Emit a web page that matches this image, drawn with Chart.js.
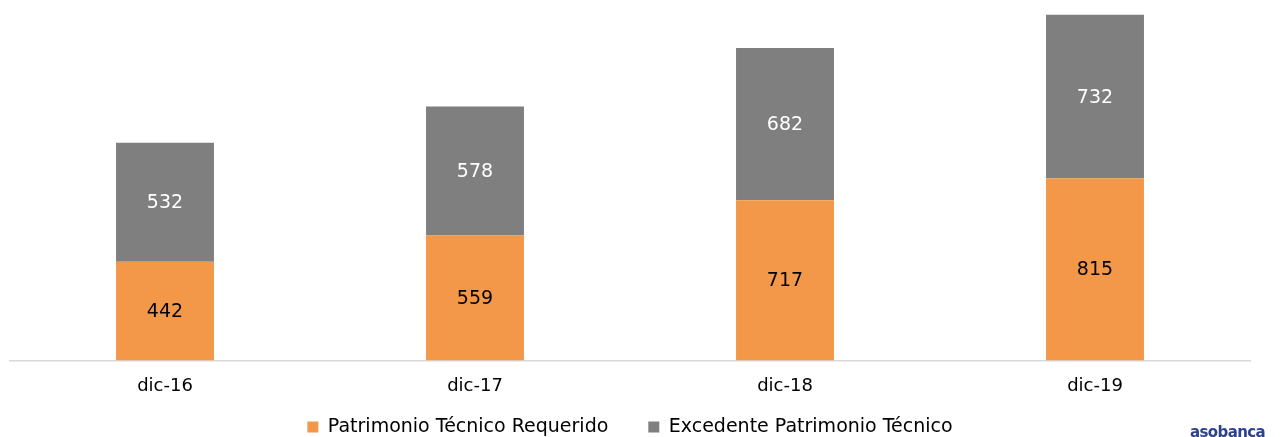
<!DOCTYPE html>
<html>
<head>
<meta charset="utf-8">
<script src="https://cdn.jsdelivr.net/npm/chart.js@4"></script>
<style>
  html, body { margin: 0; padding: 0; background: #fff; }
  #wrap { position: relative; width: 1281px; height: 437px; }
  #logo { position: absolute; left: 1190px; top: 423px; line-height: 15px; font: bold 15px "DejaVu Sans", sans-serif; color: #2f4290; letter-spacing: -0.6px; }
</style>
</head>
<body>
<div id="wrap">
  <canvas id="patrimonio" width="1281" height="437"></canvas>
  <div id="logo">asobanca</div>
</div>
<script>
let categories = ['dic-16', 'dic-17', 'dic-18', 'dic-19'];
let requerido = [442, 559, 717, 815];
let excedente = [532, 578, 682, 732];
let seriesNames = ['Patrimonio Técnico Requerido', 'Excedente Patrimonio Técnico'];

// numbers inside each bar segment
const barLabels = {
	id: 'barLabels',
	afterDatasetsDraw(chart) {
		let c = chart.ctx;
		c.save();
		c.font = '19px "DejaVu Sans", sans-serif';
		c.textAlign = 'center';
		c.textBaseline = 'middle';
		chart.data.datasets.forEach((ds, i) => {
			chart.getDatasetMeta(i).data.forEach((bar, j) => {
				let p = bar.getCenterPoint();
				c.fillStyle = i === 0 ? '#000' : '#fff';
				c.fillText(ds.data[j], p.x, p.y + 1);
			});
		});
		c.restore();
	},
};

// legend: wide gap between items but not much height
const legendSpot = {
	id: 'legendSpot',
	beforeInit(chart) {
		const fit = chart.legend.fit;
		chart.legend.fit = function () {
			fit.bind(chart.legend)();
			this.height = 33;
		};
	},
	afterLayout(chart) {
		chart.legend.top = 427 - 40 - 9.5;
	},
};

let ctx = document.getElementById('patrimonio').getContext('2d');
let chart = new Chart(ctx, {
	type: 'bar',
	data: {
		labels: categories,
		datasets: [
			{ label: seriesNames[0], data: requerido, backgroundColor: '#f39849', borderWidth: 0 },
			{ label: seriesNames[1], data: excedente, backgroundColor: '#7f7f7f', borderWidth: 0 },
		],
	},
	options: {
		responsive: false,
		animation: false,
		categoryPercentage: 1,
		barPercentage: 0.316,
		layout: { padding: { top: 3, left: 10, right: 31, bottom: 0 } },
		scales: {
			x: {
				stacked: true,
				grid: { display: false },
				border: { color: '#d9d9d9', width: 1.5 },
				ticks: { color: '#000', font: { family: 'DejaVu Sans', size: 18 }, padding: 7 },
			},
			y: { stacked: true, display: false, min: 0, max: 1600 },
		},
		plugins: {
			legend: {
				position: 'bottom',
				labels: {
					boxWidth: 11,
					boxHeight: 11,
					color: '#000',
					font: { family: 'DejaVu Sans', size: 19 },
					padding: 40,
				},
			},
			tooltip: { enabled: false },
		},
	},
	plugins: [barLabels, legendSpot],
});
</script>
</body>
</html>
